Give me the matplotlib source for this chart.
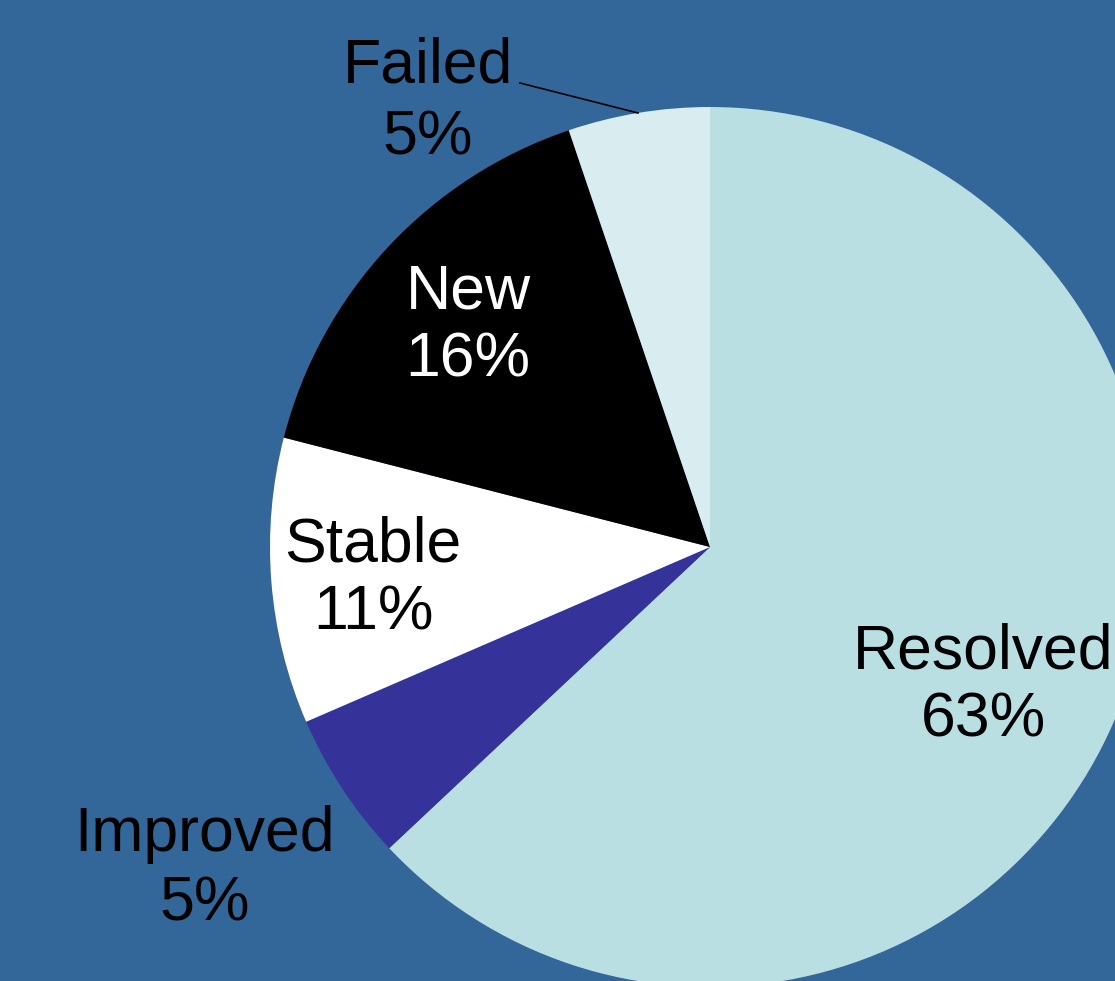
import matplotlib
matplotlib.use("Agg")
import matplotlib.pyplot as plt

categories = ["Resolved", "Improved", "Stable", "New", "Failed"]
values = [63.0, 5.5, 10.5, 15.8, 5.2]
pct_labels = ["63%", "5%", "11%", "16%", "5%"]
colors = ["#B9DFE3", "#353399", "#FFFFFF", "#000000", "#D9EDF0"]
text_colors = ["black", "black", "black", "white", "black"]

W, H = 1115, 981
CX, CY, R = 710, 547, 440

def px(x, y):
    return ((x - CX) / R, (CY - y) / R)

fig = plt.figure(figsize=(W / 100, H / 100), dpi=100)
bg = "#336699"
fig.patch.set_facecolor(bg)
ax = fig.add_axes([0, 0, 1, 1])
ax.set_facecolor(bg)

ax.pie(values, colors=colors, startangle=90, counterclock=False, radius=1.0,
       wedgeprops=dict(linewidth=0))
ax.set_aspect("auto")
ax.set_xlim(-CX / R, (W - CX) / R)
ax.set_ylim(-(H - CY) / R, CY / R)
ax.axis("off")

label_pos = [(983, 686), (205, 869), (373, 579), (468, 326), (428, 102)]
spacings = [1.19, 1.22, 1.21, 1.19, 1.27]
for cat, pct, (lx, ly), tc, ls in zip(categories, pct_labels, label_pos,
                                      text_colors, spacings):
    x, y = px(lx, ly)
    ax.text(x, y, f"{cat}\n{pct}", color=tc, family="Liberation Sans",
            fontsize=45, ha="center", va="center", linespacing=ls)

# leader line for Failed
x0, y0 = px(520, 83)
x1, y1 = px(638, 113)
ax.plot([x0, x1], [y0, y1], color="black", lw=1.2)

fig.savefig("out.png", dpi=100, facecolor=bg)
